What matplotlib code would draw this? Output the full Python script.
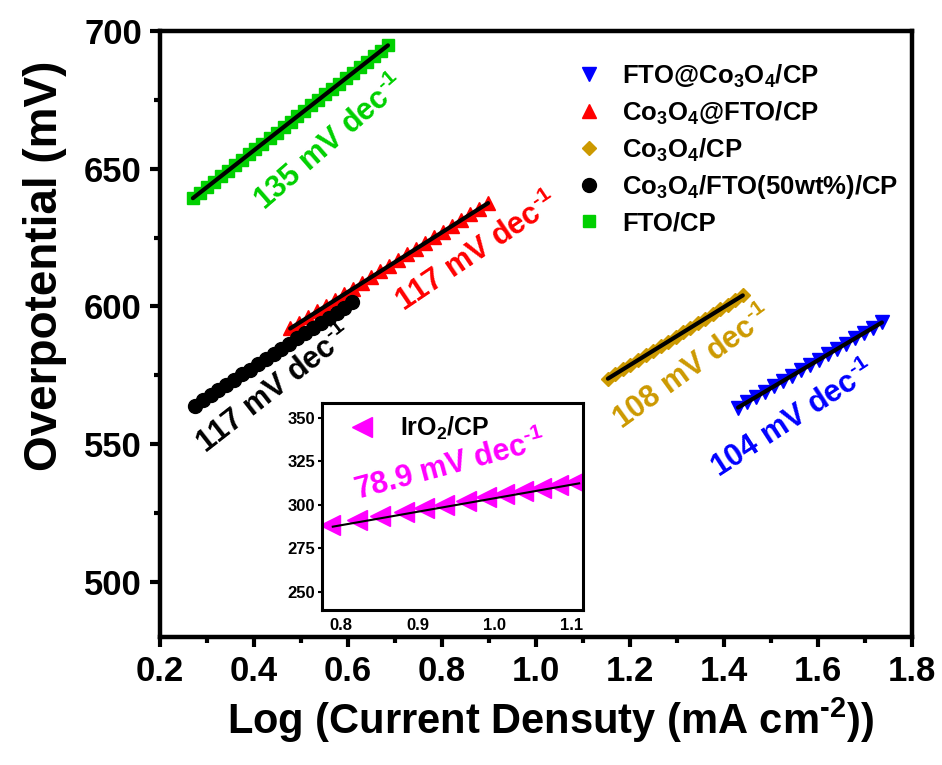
import numpy as np
import matplotlib
matplotlib.use('Agg')
import matplotlib.pyplot as plt
from matplotlib.ticker import MultipleLocator

plt.rcParams['font.family'] = ['Liberation Sans', 'DejaVu Sans']
plt.rcParams['font.weight'] = 'bold'
plt.rcParams['mathtext.fontset'] = 'custom'
plt.rcParams['mathtext.rm'] = 'Liberation Sans:bold'
plt.rcParams['mathtext.bf'] = 'Liberation Sans:bold'
plt.rcParams['mathtext.it'] = 'Liberation Sans:bold'
plt.rcParams['mathtext.default'] = 'rm'

# FTO/CP
fto_x = [0.270, 0.285, 0.300, 0.314, 0.329, 0.344, 0.359, 0.374, 0.389, 0.403,
         0.418, 0.433, 0.448, 0.463, 0.478, 0.492, 0.507, 0.522, 0.537, 0.552,
         0.567, 0.581, 0.596, 0.611, 0.626, 0.641, 0.656, 0.670, 0.685]
fto_y = [639.3, 641.3, 643.3, 645.2, 647.2, 649.2, 651.2, 653.2, 655.2, 657.1,
         659.1, 661.1, 663.1, 665.1, 667.1, 669.0, 671.0, 673.0, 675.0, 677.0,
         679.0, 680.9, 682.9, 684.9, 686.9, 688.9, 690.9, 692.8, 694.8]

# Co3O4@FTO/CP
cof_x = [0.477, 0.496, 0.515, 0.534, 0.554, 0.573, 0.592, 0.611, 0.630, 0.649,
         0.668, 0.687, 0.707, 0.726, 0.745, 0.764, 0.783, 0.802, 0.821, 0.840,
         0.860, 0.879, 0.898]
cof_y = [592.0, 594.1, 596.1, 598.2, 600.3, 602.3, 604.4, 606.5, 608.5, 610.6,
         612.7, 614.8, 616.8, 618.9, 621.0, 623.0, 625.1, 627.2, 629.2, 631.3,
         633.4, 635.4, 637.5]

# Co3O4/FTO(50wt%)/CP
mix_x = [0.274, 0.291, 0.308, 0.324, 0.341, 0.358, 0.375, 0.391, 0.408, 0.425,
         0.442, 0.458, 0.475, 0.492, 0.509, 0.525, 0.542, 0.559, 0.576, 0.592,
         0.609]
mix_y = [564.0, 565.9, 567.8, 569.6, 571.5, 573.4, 575.3, 577.1, 579.0, 580.9,
         582.8, 584.6, 586.5, 588.4, 590.3, 592.1, 594.0, 595.9, 597.8, 599.6,
         601.5]

# Co3O4/CP
co_x = [1.153, 1.169, 1.185, 1.201, 1.217, 1.233, 1.249, 1.265, 1.281, 1.297,
        1.312, 1.328, 1.344, 1.360, 1.376, 1.392, 1.408, 1.424, 1.440]
co_y = [573.8, 575.5, 577.2, 578.8, 580.5, 582.2, 583.9, 585.5, 587.2, 588.9,
        590.6, 592.3, 593.9, 595.6, 597.3, 599.0, 600.6, 602.3, 604.0]

# FTO@Co3O4/CP
fco_x = [1.430, 1.449, 1.468, 1.487, 1.507, 1.526, 1.545, 1.564, 1.583, 1.602,
         1.621, 1.640, 1.660, 1.679, 1.698, 1.717, 1.736]
fco_y = [563.3, 565.2, 567.2, 569.1, 571.0, 573.0, 574.9, 576.8, 578.7, 580.7,
         582.6, 584.5, 586.5, 588.4, 590.3, 592.3, 594.2]

# IrO2/CP (inset)
ir_x = [0.786, 0.822, 0.851, 0.883, 0.909, 0.935, 0.963, 0.989, 1.013, 1.037,
        1.061, 1.082, 1.104]
ir_y = [288.3, 291.1, 293.4, 295.9, 297.9, 300.0, 302.2, 304.2, 306.1, 307.9,
        309.8, 311.5, 313.2]
ir_fit_x = [0.79, 1.11]
ir_fit_y = [287.4, 312.3]

W, H = 942, 765
fig = plt.figure(figsize=(W / 100, H / 100), dpi=100)
ax = fig.add_axes([160 / W, 1 - 637 / H, 752 / W, 606 / H])


def px(x, y):
    return x / W, 1 - y / H


series = [
    (fco_x, fco_y, 'v', '#0000FF', 10, r'FTO@Co$_3$O$_4$/CP'),
    (cof_x, cof_y, '^', '#FF0000', 10, r'Co$_3$O$_4$@FTO/CP'),
    (co_x, co_y, 'D', '#CC9900', 7.5, r'Co$_3$O$_4$/CP'),
    (mix_x, mix_y, 'o', '#000000', 10, r'Co$_3$O$_4$/FTO(50wt%)/CP'),
    (fto_x, fto_y, 's', '#00D000', 8, 'FTO/CP'),
]
for x, y, m, c, ms, lab in series:
    ax.plot(x, y, m, color=c, ms=ms, mec=c, label=lab, zorder=2)
for x, y, m, c, ms, lab in series:
    k, b = np.polyfit(x, y, 1)
    xx = np.array([x[0], x[-1]])
    ax.plot(xx, k * xx + b, '-', color='k', lw=3, solid_capstyle='round', zorder=3)

ax.set_xlim(0.2, 1.8)
ax.set_ylim(480, 700)
ax.xaxis.set_major_locator(MultipleLocator(0.2))
ax.xaxis.set_minor_locator(MultipleLocator(0.1))
ax.yaxis.set_major_locator(MultipleLocator(50))
ax.yaxis.set_minor_locator(MultipleLocator(25))
for s in ax.spines.values():
    s.set_linewidth(3.2)
ax.tick_params(which='major', direction='out', length=7, width=3, labelsize=25, pad=6)
ax.tick_params(which='minor', direction='out', length=4, width=3)
ax.set_xticklabels([f'{v:.1f}' for v in ax.get_xticks()])

sup = r'$^{\text{-}1}$'
fig.text(*px(45, 266), 'Overpotential (mV)', rotation=90, ha='center', va='center',
         fontsize=33, fontweight='bold')
fig.text(*px(551, 720), r'Log (Current Densuty (mA cm$^{\text{-}2}$))', ha='center',
         va='center', fontsize=30, fontweight='bold')

ax.legend(loc='upper left', bbox_to_anchor=(0.522, 0.965), frameon=False, fontsize=18.5,
          handletextpad=0.3, labelspacing=0.38, borderaxespad=0)

notes = [
    (330, 143, 41, '#00D000', '135 mV dec' + sup),
    (477, 252, 34, '#FF0000', '117 mV dec' + sup),
    (275, 390, 38, '#000000', '117 mV dec' + sup),
    (693, 368, 36, '#CC9900', '108 mV dec' + sup),
    (793, 420, 33, '#0000FF', '104 mV dec' + sup),
]
for x, y, r, c, t in notes:
    fig.text(*px(x, y), t, rotation=r, color=c, fontsize=22, fontweight='bold',
             ha='center', va='center', rotation_mode='anchor')

ins = fig.add_axes([322 / W, 1 - 610 / H, 261 / W, 207 / H])
ins.plot(ir_x, ir_y, '<', color='#FF00FF', ms=14, label=r'IrO$_2$/CP', zorder=2)
ins.plot(ir_fit_x, ir_fit_y, '-', color='k', lw=1.5, zorder=3)
ins.set_xlim(0.776, 1.115)
ins.set_ylim(239.5, 358.5)
ins.xaxis.set_major_locator(MultipleLocator(0.1))
ins.yaxis.set_major_locator(MultipleLocator(25))
for s in ins.spines.values():
    s.set_linewidth(2.2)
ins.tick_params(axis='y', direction='out', length=3, width=1.5, labelsize=12, pad=2)
ins.tick_params(axis='x', direction='out', length=0, labelsize=12, pad=6)
ins.set_xticklabels([f'{v:.1f}' for v in ins.get_xticks()])
ins.legend(loc='upper left', bbox_to_anchor=(0.02, 0.99), frameon=False, fontsize=18,
           handletextpad=0.5, borderaxespad=0)
fig.text(*px(450, 466), '78.9 mV dec' + sup, rotation=15, color='#FF00FF', fontsize=22,
         fontweight='bold', ha='center', va='center', rotation_mode='anchor')

fig.savefig('out.png', dpi=100)
